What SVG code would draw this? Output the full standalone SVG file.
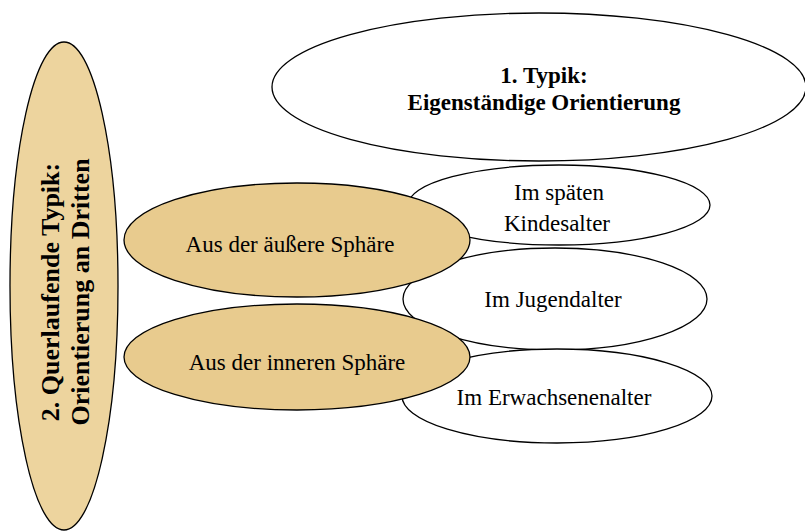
<svg xmlns="http://www.w3.org/2000/svg" width="805" height="532" viewBox="0 0 805 532">
<defs>
<style>
.w{fill:#ffffff;stroke:#000;stroke-width:1.3}
.t{fill:#E8CB8E;stroke:#000;stroke-width:1.3}
.tv{fill:#EDD49E;stroke:#000;stroke-width:1.3}
text{font-family:"Liberation Serif","Times New Roman",serif;fill:#000;text-anchor:middle}
.b{font-weight:bold}
</style>
</defs>
<rect width="805" height="532" fill="#ffffff"/>
<g id="typik1">
<ellipse class="w" cx="539" cy="87" rx="267" ry="74"/>
<text class="b" x="544" y="83" font-size="23">1. Typik:</text>
<text class="b" x="544" y="110" font-size="23">Eigenständige Orientierung</text>
</g>
<g id="typik2">
<ellipse class="tv" cx="64" cy="286" rx="54" ry="244"/>
<g transform="translate(59,292) rotate(-90)">
<text class="b" x="0" y="0" font-size="26">2. Querlaufende Typik:</text>
<text class="b" x="0" y="30" font-size="26">Orientierung an Dritten</text>
</g>
</g>
<g id="kindesalter">
<ellipse class="w" cx="559" cy="205" rx="151" ry="40"/>
<text x="559" y="200" font-size="23">Im späten</text>
<text x="557" y="231" font-size="23">Kindesalter</text>
</g>
<g id="jugendalter">
<ellipse class="w" cx="555" cy="299" rx="152" ry="51"/>
<text x="553" y="307" font-size="23">Im Jugendalter</text>
</g>
<g id="erwachsenenalter">
<ellipse class="w" cx="557" cy="396" rx="155" ry="47"/>
<text x="554" y="405" font-size="23">Im Erwachsenenalter</text>
</g>
<g id="aeussere">
<ellipse class="t" cx="297" cy="240" rx="173" ry="57"/>
<text x="290" y="252" font-size="23">Aus der äußere Sphäre</text>
</g>
<g id="innere">
<ellipse class="t" cx="297" cy="357" rx="173" ry="53"/>
<text x="297" y="370" font-size="23">Aus der inneren Sphäre</text>
</g>
<g id="connectors"></g>
</svg>
